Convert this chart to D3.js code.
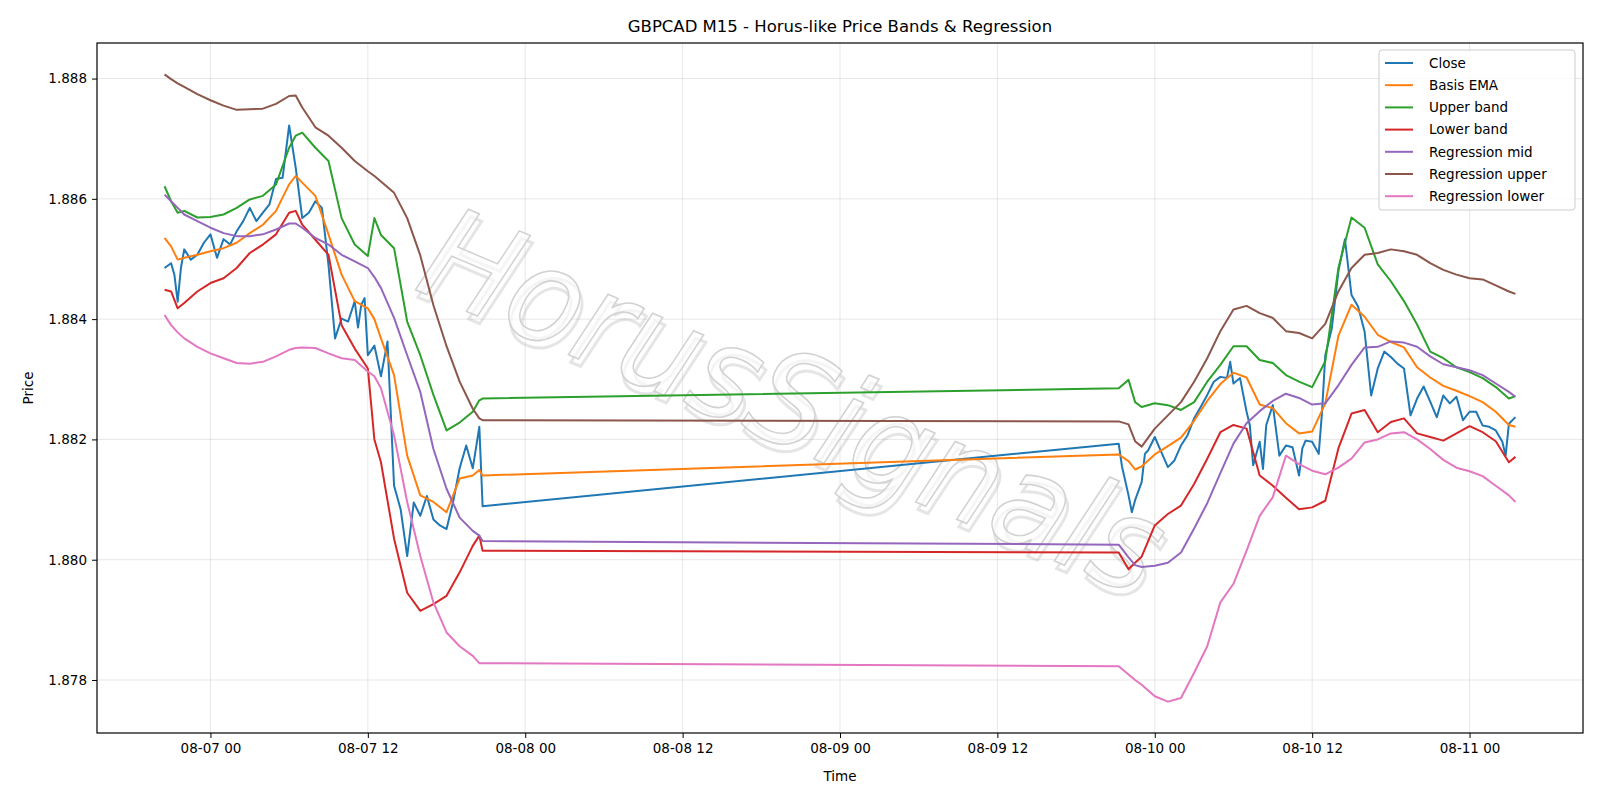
<!DOCTYPE html>
<html>
<head>
<meta charset="utf-8">
<script src="https://cdn.jsdelivr.net/npm/d3@7"></script>
<style>
  body { margin: 0; background: #fff; }
  text { font-family: "DejaVu Sans", sans-serif; }
</style>
</head>
<body>
<div id="chart"></div>
<script>
// times shared by the smooth series (band / regression lines)
const bandTimes = [
  "08-06 20:30","08-06 21:00","08-06 21:30","08-06 22:00","08-06 23:00",
  "08-07 00:00","08-07 01:00","08-07 02:00","08-07 03:00","08-07 04:00","08-07 05:00","08-07 06:00","08-07 06:30",
  "08-07 07:00","08-07 08:00","08-07 09:00","08-07 10:00","08-07 11:00","08-07 12:00","08-07 12:30",
  "08-07 13:00","08-07 14:00","08-07 15:00","08-07 16:00","08-07 17:00","08-07 18:00","08-07 19:00","08-07 20:00",
  "08-07 20:30","08-07 20:45",
  "08-09 21:15","08-09 22:00","08-09 22:30","08-09 23:00",
  "08-10 00:00","08-10 01:00","08-10 02:00","08-10 03:00","08-10 04:00","08-10 05:00","08-10 06:00","08-10 07:00",
  "08-10 08:00","08-10 09:00","08-10 10:00","08-10 11:00","08-10 12:00","08-10 13:00","08-10 14:00","08-10 15:00",
  "08-10 16:00","08-10 17:00","08-10 18:00","08-10 19:00","08-10 20:00","08-10 21:00","08-10 22:00","08-10 23:00",
  "08-11 00:00","08-11 01:00","08-11 02:00","08-11 03:00","08-11 03:30"
];

const basisEma = [
  1.88535,1.88521,1.88499,1.88502,1.88507,1.88513,1.88518,1.88527,1.88543,1.88557,1.8858,1.88624,1.88638,
  1.88627,1.88605,1.88541,1.88474,1.8843,1.88418,1.884,1.88368,1.88307,1.88173,1.88107,1.88096,1.88079,1.88135,1.8814,
  1.88149,1.8814,
  1.88175,1.88164,1.8815,1.88155,
  1.88175,1.88189,1.88203,1.88231,1.88264,1.88292,1.88311,1.88303,1.88258,1.88252,1.88227,1.8821,1.88213,1.8826,
  1.88372,1.88424,1.88404,1.88374,1.88362,1.88353,1.8832,1.88303,1.88289,1.88281,1.88272,1.88262,1.88246,1.88224,1.88221
];
const upperBand = [
  1.88621,1.88596,1.88577,1.8858,1.88569,1.8857,1.88574,1.88585,1.88599,1.88605,1.88624,1.88685,1.88705,
  1.8871,1.88685,1.88663,1.88568,1.88524,1.88505,1.88568,1.8854,1.88518,1.88396,1.8834,1.88274,1.88215,1.88228,1.88246,
  1.88265,1.88268,
  1.88285,1.88299,1.88262,1.88254,
  1.8826,1.88257,1.88249,1.88262,1.88296,1.88324,1.88355,1.88355,1.88332,1.88327,1.88307,1.88296,1.88287,1.8833,
  1.88485,1.88569,1.88552,1.88491,1.88463,1.8843,1.88391,1.88346,1.88335,1.8832,1.88312,1.88302,1.88287,1.88268,1.88272
];
const lowerBand = [
  1.88449,1.88446,1.88418,1.88427,1.88446,1.8846,1.88468,1.88485,1.8851,1.88524,1.88541,1.88577,1.8858,
  1.88557,1.88532,1.88507,1.8839,1.88351,1.88318,1.882,1.88162,1.88035,1.87945,1.87915,1.87926,1.8794,1.87979,1.88023,
  1.8804,1.88015,
  1.88012,1.87984,1.87995,1.88005,
  1.88057,1.88076,1.8809,1.88126,1.88168,1.88212,1.88224,1.88218,1.8814,1.88123,1.88103,1.88084,1.88087,1.88098,
  1.88185,1.88243,1.88249,1.88212,1.88229,1.88235,1.8821,1.88204,1.88198,1.8821,1.88222,1.88212,1.88197,1.88162,1.88171
];
const regMid = [
  1.88607,1.88596,1.88585,1.88574,1.88563,1.88552,1.88543,1.88538,1.88538,1.88541,1.88549,1.88559,1.88559,
  1.88552,1.88535,1.88524,1.88507,1.88496,1.88485,1.8847,1.88452,1.88402,1.8834,1.88279,1.88184,1.88118,1.8807,1.88048,
  1.8804,1.88031,
  1.88025,1.88004,1.87991,1.87988,
  1.8799,1.87995,1.88012,1.88052,1.88094,1.88144,1.88193,1.88227,1.88247,1.88264,1.88276,1.88269,1.88258,1.8826,
  1.8829,1.88324,1.88353,1.88354,1.88363,1.88361,1.88354,1.88338,1.88325,1.8832,1.88315,1.88307,1.88293,1.88279,1.88271
];
const regUpper = [
  1.88807,1.88799,1.88792,1.88786,1.88774,1.88764,1.88755,1.88748,1.88749,1.8875,1.88758,1.88771,1.88772,
  1.88752,1.88719,1.88705,1.88685,1.88663,1.88646,1.88638,1.88629,1.8861,1.88568,1.88506,1.88423,1.88355,1.88296,1.88251,
  1.88235,1.88232,
  1.8823,1.88225,1.88197,1.88188,
  1.88218,1.8824,1.88262,1.88296,1.88335,1.8838,1.88416,1.88422,1.8841,1.88402,1.8838,1.88377,1.88368,1.88392,
  1.88446,1.88485,1.88507,1.8851,1.88516,1.88513,1.88507,1.88493,1.88482,1.88474,1.88468,1.88466,1.88456,1.88446,1.88442
];
const regLower = [
  1.88407,1.8839,1.88378,1.88368,1.88354,1.88343,1.88335,1.88327,1.88326,1.88329,1.88338,1.88349,1.88352,
  1.88353,1.88352,1.88343,1.88335,1.88332,1.88313,1.88305,1.88285,1.88207,1.88096,1.88006,1.87929,1.87879,1.87856,1.8784,
  1.87828,1.87828,
  1.87823,1.87809,1.878,1.87792,
  1.87773,1.87764,1.8777,1.87812,1.87856,1.87929,1.8796,1.88015,1.88073,1.88104,1.88173,1.88159,1.88148,1.88142,
  1.88153,1.88168,1.88195,1.882,1.8821,1.88212,1.882,1.88184,1.88166,1.88153,1.88147,1.88139,1.88123,1.88107,1.88096
];

const closeTimes = [
  "08-06 20:30","08-06 21:00","08-06 21:15","08-06 21:30","08-06 21:45","08-06 22:00","08-06 22:30","08-06 23:00","08-06 23:30",
  "08-07 00:00","08-07 00:30","08-07 01:00","08-07 01:30","08-07 02:00","08-07 02:30","08-07 03:00","08-07 03:30",
  "08-07 04:00","08-07 04:30","08-07 05:00","08-07 05:30","08-07 06:00","08-07 06:30","08-07 07:00","08-07 07:30",
  "08-07 08:00","08-07 08:30","08-07 09:00","08-07 09:30","08-07 10:00","08-07 10:30","08-07 11:00","08-07 11:15",
  "08-07 11:30","08-07 11:45","08-07 12:00","08-07 12:30","08-07 13:00","08-07 13:30","08-07 14:00","08-07 14:30",
  "08-07 15:00","08-07 15:30","08-07 16:00","08-07 16:30","08-07 17:00","08-07 17:30","08-07 18:00","08-07 18:30",
  "08-07 19:00","08-07 19:30","08-07 20:00","08-07 20:30","08-07 20:45",
  "08-09 21:15","08-09 21:30","08-09 22:00","08-09 22:15","08-09 22:30","08-09 23:00","08-09 23:15","08-09 23:30",
  "08-10 00:00","08-10 00:30","08-10 01:00","08-10 01:30","08-10 02:00","08-10 02:30","08-10 03:00","08-10 03:30",
  "08-10 04:00","08-10 04:30","08-10 05:00","08-10 05:30","08-10 05:45","08-10 06:00","08-10 06:30","08-10 07:00",
  "08-10 07:15","08-10 07:30","08-10 08:00","08-10 08:15","08-10 08:30","08-10 09:00","08-10 09:30","08-10 10:00",
  "08-10 10:30","08-10 11:00","08-10 11:15","08-10 11:30","08-10 12:00","08-10 12:30","08-10 12:45","08-10 13:00",
  "08-10 13:30","08-10 14:00","08-10 14:30","08-10 15:00","08-10 15:30","08-10 16:00","08-10 16:30","08-10 17:00",
  "08-10 17:30","08-10 18:00","08-10 18:30","08-10 19:00","08-10 19:30","08-10 20:00","08-10 20:30","08-10 21:00",
  "08-10 21:30","08-10 22:00","08-10 22:30","08-10 23:00","08-10 23:30","08-11 00:00","08-11 00:30","08-11 01:00",
  "08-11 01:30","08-11 02:00","08-11 02:30","08-11 02:45","08-11 03:00","08-11 03:30"
];
const closeValues = [
  1.88485,1.88493,1.88474,1.88429,1.88485,1.88516,1.88499,1.88507,1.88527,
  1.88541,1.88502,1.88533,1.88524,1.88546,1.88563,1.88585,1.88563,
  1.88577,1.88591,1.88633,1.88635,1.88722,1.88652,1.88568,1.88577,
  1.88596,1.88585,1.8849,1.88368,1.88401,1.88396,1.8843,1.88386,
  1.88424,1.88435,1.8834,1.88356,1.88305,1.88363,1.88123,1.88084,
  1.88006,1.88095,1.88073,1.88106,1.88067,1.88057,1.88051,1.88096,
  1.88152,1.8819,1.88152,1.88221,1.88089,
  1.88193,1.88155,1.88107,1.88079,1.88099,1.88129,1.88176,1.88182,
  1.88204,1.88179,1.88154,1.88165,1.8819,1.88207,1.88235,1.88254,
  1.88274,1.88296,1.88304,1.88302,1.88329,1.88293,1.88302,1.88246,
  1.88223,1.88157,1.88196,1.88151,1.88224,1.88257,1.88173,1.8819,
  1.88187,1.8814,1.88185,1.88198,1.88196,1.88176,1.88245,1.8834,
  1.88385,1.8848,1.88533,1.8844,1.88421,1.88379,1.88273,1.88318,
  1.88346,1.88337,1.88326,1.88318,1.8824,1.88268,1.88288,1.88263,
  1.88237,1.88273,1.8826,1.88271,1.88232,1.88246,1.88246,1.88223,
  1.88221,1.88215,1.88196,1.88173,1.88226,1.88237
];

const seriesNames = ["Close","Basis EMA","Upper band","Lower band","Regression mid","Regression upper","Regression lower"];
const seriesColors = ["#1f77b4","#ff7f0e","#2ca02c","#d62728","#9467bd","#8c564b","#e377c2"];
const xTickLabels = ["08-07 00","08-07 12","08-08 00","08-08 12","08-09 00","08-09 12","08-10 00","08-10 12","08-11 00"];
const yTickLabels = ["1.878","1.880","1.882","1.884","1.886","1.888"];

function draw() {
  const width = 1600, height = 800;
  const m = {left: 97, right: 1583, top: 43, bottom: 733};
  const parse = d3.timeParse("%Y-%m-%d %H:%M");
  const tp = s => parse("2020-" + s);

  const series = [
    {times: closeTimes, vals: closeValues},
    {times: bandTimes, vals: basisEma},
    {times: bandTimes, vals: upperBand},
    {times: bandTimes, vals: lowerBand},
    {times: bandTimes, vals: regMid},
    {times: bandTimes, vals: regUpper},
    {times: bandTimes, vals: regLower}
  ].map((s, i) => ({
    name: seriesNames[i], color: seriesColors[i],
    pts: s.times.map((t, j) => [tp(t), s.vals[j]])
  }));

  const all = series.flatMap(s => s.pts);
  const tx = d3.extent(all, d => +d[0]);
  const vy = d3.extent(all, d => d[1]);
  const px = (tx[1] - tx[0]) * 0.05, py = (vy[1] - vy[0]) * 0.05;

  const x = d3.scaleTime().domain([new Date(tx[0] - px), new Date(tx[1] + px)]).range([m.left, m.right]);
  const y = d3.scaleLinear().domain([vy[0] - py, vy[1] + py]).range([m.bottom, m.top]);

  const svg = d3.select("#chart").append("svg")
    .attr("width", width).attr("height", height);

  const xTicks = xTickLabels.map(s => tp(s + ":00"));
  const yTicks = yTickLabels.map(Number);

  // grid
  svg.append("g").selectAll("line").data(xTicks).join("line")
    .attr("x1", d => x(d)).attr("x2", d => x(d)).attr("y1", m.top).attr("y2", m.bottom)
    .attr("stroke", "#b0b0b0").attr("stroke-opacity", 0.3).attr("stroke-width", 1);
  svg.append("g").selectAll("line").data(yTicks).join("line")
    .attr("y1", d => y(d)).attr("y2", d => y(d)).attr("x1", m.left).attr("x2", m.right)
    .attr("stroke", "#b0b0b0").attr("stroke-opacity", 0.3).attr("stroke-width", 1);

  // watermark
  const wm = svg.append("g").attr("transform", "translate(790,410) rotate(23)");
  wm.append("text").attr("x", 5).attr("y", 6)
    .attr("text-anchor", "middle").attr("dominant-baseline", "middle")
    .attr("font-size", 130).attr("font-style", "italic")
    .attr("textLength", 790).attr("lengthAdjust", "spacingAndGlyphs")
    .attr("fill", "none").attr("stroke", "#aaa").attr("stroke-width", 3).attr("opacity", 0.3)
    .text("HorusSignals");
  wm.append("text")
    .attr("text-anchor", "middle").attr("dominant-baseline", "middle")
    .attr("font-size", 130).attr("font-style", "italic")
    .attr("textLength", 790).attr("lengthAdjust", "spacingAndGlyphs")
    .attr("fill", "#fff").attr("fill-opacity", 0.6).attr("stroke", "#d2d2d2").attr("stroke-width", 1.6)
    .text("HorusSignals");

  // lines
  const line = d3.line().x(d => x(d[0])).y(d => y(d[1]));
  svg.append("g").selectAll("path").data(series).join("path")
    .attr("d", d => line(d.pts))
    .attr("fill", "none").attr("stroke", d => d.color).attr("stroke-width", 2)
    .attr("stroke-linejoin", "round");

  // axes
  const xAxis = svg.append("g").attr("transform", `translate(0,${m.bottom})`)
    .call(d3.axisBottom(x).tickValues(xTicks).tickFormat(d3.timeFormat("%m-%d %H")).tickSize(5).tickPadding(5));
  const yAxis = svg.append("g").attr("transform", `translate(${m.left},0)`)
    .call(d3.axisLeft(y).tickValues(yTicks).tickFormat(d3.format(".3f")).tickSize(5).tickPadding(5));
  [xAxis, yAxis].forEach(a => {
    a.select(".domain").remove();
    a.selectAll("text").attr("font-size", 13.5).attr("fill", "#000").attr("font-family", "DejaVu Sans");
    a.selectAll("line").attr("stroke", "#000");
  });
  svg.append("rect").attr("x", m.left).attr("y", m.top)
    .attr("width", m.right - m.left).attr("height", m.bottom - m.top)
    .attr("fill", "none").attr("stroke", "#000").attr("stroke-width", 1.2);

  // labels
  svg.append("text").attr("x", (m.left + m.right) / 2).attr("y", 32)
    .attr("text-anchor", "middle").attr("font-size", 16.5)
    .text("GBPCAD M15 - Horus-like Price Bands & Regression");
  svg.append("text").attr("x", (m.left + m.right) / 2).attr("y", 781)
    .attr("text-anchor", "middle").attr("font-size", 13.5).text("Time");
  svg.append("text").attr("transform", `translate(33,${(m.top + m.bottom) / 2}) rotate(-90)`)
    .attr("text-anchor", "middle").attr("font-size", 13.5).text("Price");

  // legend
  const lg = svg.append("g").attr("transform", `translate(${m.right - 204},${m.top + 7})`);
  lg.append("rect").attr("width", 196).attr("height", 160).attr("rx", 3)
    .attr("fill", "#fff").attr("fill-opacity", 0.8).attr("stroke", "#ccc");
  const item = lg.selectAll("g").data(series).join("g")
    .attr("transform", (d, i) => `translate(0,${13 + i * 22.2})`);
  item.append("line").attr("x1", 6).attr("x2", 34).attr("stroke", d => d.color).attr("stroke-width", 2);
  item.append("text").attr("x", 50).attr("dy", "0.35em").attr("font-size", 13.5).text(d => d.name);
}
draw();
</script>
</body>
</html>
